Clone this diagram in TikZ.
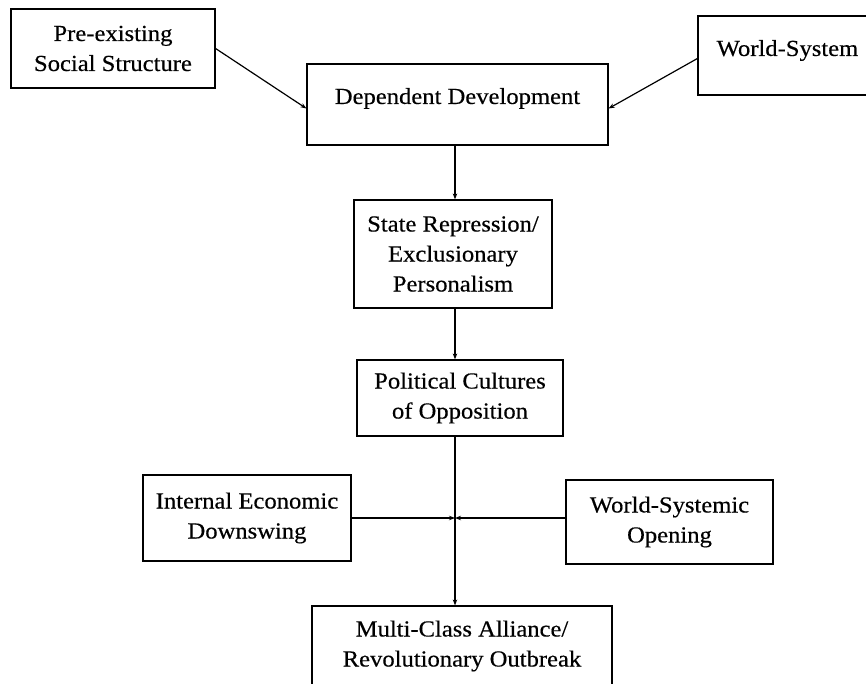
\documentclass[tikz,border=0pt]{standalone}
\usepackage{fontspec}
\setmainfont[FakeStretch=1.07,FakeBold=0.4]{Liberation Serif}
\usetikzlibrary{arrows.meta}
\begin{document}
\begin{tikzpicture}[x=1pt,y=-1pt,
  box/.style={draw, line width=1.2pt, rectangle, align=center, inner sep=0pt,
    font=\fontsize{23}{30}\selectfont},
  link/.style={line width=1.2pt, -{Stealth[length=6pt,width=4.5pt]}},
  plain/.style={line width=1.2pt}]
\useasboundingbox (0,0) rectangle (866,684);
\node[box, minimum width=204pt, minimum height=79pt] (pre) at (113,48.5) {Pre-existing\\Social Structure};
\node[box, minimum width=179pt, minimum height=79pt, text depth=15pt] (ws) at (787.5,55.5) {World-System};
\node[box, minimum width=301pt, minimum height=81pt, text depth=17pt] (dep) at (457.5,104.5) {Dependent Development};
\node[box, minimum width=198pt, minimum height=108pt] (state) at (453,254) {State Repression/\\Exclusionary\\Personalism};
\node[box, minimum width=206pt, minimum height=76pt] (pol) at (460,398) {Political Cultures\\of Opposition};
\node[box, minimum width=208pt, minimum height=86pt] (int) at (247,518) {Internal Economic\\Downswing};
\node[box, minimum width=207pt, minimum height=84pt] (wso) at (669.5,522) {World-Systemic\\Opening};
\node[box, minimum width=300pt, minimum height=80pt] (multi) at (462,646) {Multi-Class Alliance/\\Revolutionary Outbreak};
\coordinate (j) at (455,518);
\draw[link] (pre.east) -- ([yshift=-4pt]dep.west);
\draw[link] ([yshift=-3pt]ws.west) -- ([yshift=-4pt]dep.east);
\draw[link] (dep.south -| j) -- (state.north -| j);
\draw[link] (state.south -| j) -- (pol.north -| j);
\draw[plain] (pol.south -| j) -- (j);
\draw[link] (j) -- (multi.north -| j);
\draw[link] (int.east |- j) -- (j);
\draw[link] (wso.west |- j) -- (j);
\end{tikzpicture}
\end{document}
